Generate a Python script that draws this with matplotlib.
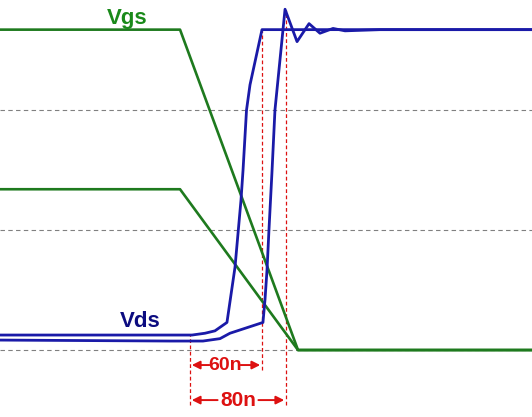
import matplotlib.pyplot as plt

# time in ns, voltage in arbitrary units (grid every 10)
vgs1_t = [-158.3, -8.3, 90, 285]
vgs1_v = [26.7, 26.7, 0, 0]
vgs2_t = [-158.3, -8.3, 90, 285]
vgs2_v = [13.4, 13.4, 0, 0]

vds1_t = [-158.3, 1.7, 12.5, 20.8, 30.8, 37.5, 42.5, 44.2, 47.1, 50, 60, 285]
vds1_v = [1.25, 1.25, 1.4, 1.6, 2.3, 6.9, 12.5, 15.0, 20.0, 22.1, 26.7, 26.7]

vds2_t = [-158.3, -16.7, 10.8, 25.0, 33.3, 60.8, 62.5, 64.2, 65.8, 68.3, 70.8,
          77.5, 79.2, 89.2, 99.2, 108.3, 119.2, 129.2, 158.3, 285]
vds2_v = [0.83, 0.75, 0.75, 0.95, 1.4, 2.3, 4.2, 6.7, 10.0, 14.8, 20.0,
          26.7, 28.4, 25.7, 27.2, 26.4, 26.8, 26.6, 26.7, 26.7]

marks = [0, 60, 80]          # red dashed markers (ns)
marks_top = [1.25, 26.7, 28.3]
marks_bot = [-4.6, -1.7, -4.6]
grid_v = [0, 10, 20]

green = '#1e7a1e'
blue = '#1a1aa8'
red = '#dd1111'

fig = plt.figure(figsize=(5.32, 4.17), dpi=100)
ax = fig.add_axes([0, 0, 1, 1])
ax.set_xlim(-158.33, 285)
ax.set_ylim(-5.58, 29.17)
ax.axis('off')

for g in grid_v:
    ax.axhline(g, color='#808080', lw=0.8, ls=(0, (4, 3)), zorder=1)

for m, top, bot in zip(marks, marks_top, marks_bot):
    ax.plot([m, m], [bot, top], color=red, lw=0.9, ls=(0, (3, 2)), zorder=2)

ax.plot(vgs1_t, vgs1_v, color=green, lw=1.9, zorder=3)
ax.plot(vgs2_t, vgs2_v, color=green, lw=1.9, zorder=3)
ax.plot(vds1_t, vds1_v, color=blue, lw=2.0, zorder=4)
ax.plot(vds2_t, vds2_v, color=blue, lw=2.0, zorder=4)

font = ['Liberation Sans', 'DejaVu Sans']
ax.text(-52.0, 27.6, 'Vgs', color='#1a8a1a', fontsize=16, fontweight='bold',
        family=font, ha='center', va='center')
ax.text(-41.7, 2.4, 'Vds', color='#0c0c80', fontsize=16, fontweight='bold',
        family=font, ha='center', va='center')

# 60n / 80n dimension arrows
arr = dict(arrowstyle='-|>', color=red, lw=1.4, mutation_scale=12,
           shrinkA=0, shrinkB=0)
for end, y, lab, tc, half, fs in [(60, -1.25, '60n', 29.2, 13.0, 14),
                                  (80, -4.17, '80n', 40.0, 17.0, 15)]:
    ax.text(tc, y, lab, color=red, fontsize=fs, fontweight='bold',
            family=font, ha='center', va='center')
    ax.annotate('', xy=(marks[0] + 1.5, y), xytext=(tc - half, y),
                arrowprops=arr)
    ax.annotate('', xy=(end - 1.5, y), xytext=(tc + half, y),
                arrowprops=arr)

fig.savefig('out.png', dpi=100)
